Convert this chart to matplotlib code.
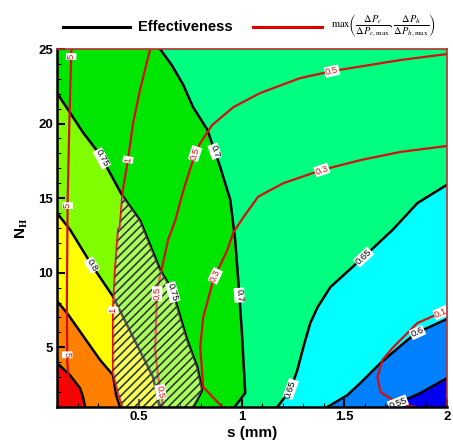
import numpy as np
import matplotlib
matplotlib.use("Agg")
import matplotlib.pyplot as plt
from matplotlib.patches import Polygon
from matplotlib.lines import Line2D

# ---------------------------------------------------------------- data
S_MIN, S_MAX = 0.1, 2.0      # fin spacing s (mm)
N_MIN, N_MAX = 1.0, 25.0     # number of hot channels N_H

# effectiveness isolines: (s values, N_H values), ordered so that each
# line ends on the bottom edge
eff_levels = [0.55, 0.60, 0.65, 0.70, 0.75, 0.80, 0.85, 0.90]
eff_055 = ([2.0, 1.871, 1.773, 1.71], [2.94, 1.94, 1.34, 1.0])
eff_060 = ([2.0, 1.856, 1.807, 1.676, 1.578, 1.515, 1.417],
           [6.9, 6.0, 5.49, 3.95, 2.61, 1.8, 1.0])
eff_065 = ([2.0, 1.856, 1.734, 1.593, 1.432, 1.37, 1.334, 1.30, 1.271, 1.237, 1.173],
           [15.9, 14.67, 12.86, 11.05, 9.04, 7.7, 6.63, 5.0, 3.48, 2.14, 1.0])
eff_070 = ([0.602, 0.66, 0.715, 0.763, 0.832, 0.895, 0.944, 0.968, 0.983, 1.0, 1.017, 0.965],
           [25.0, 23.9, 22.6, 21.1, 19.6, 17.1, 14.9, 12.2, 9.5, 6.2, 1.94, 1.0])
eff_075 = ([0.1, 0.227, 0.31, 0.417, 0.505, 0.602, 0.661, 0.734, 0.783, 0.807, 0.783, 0.763],
           [22.05, 19.4, 17.9, 15.2, 13.5, 10.2, 8.84, 5.5, 3.68, 2.14, 1.47, 1.0])
eff_080 = ([0.1, 0.163, 0.27, 0.373, 0.47, 0.568, 0.60],
           [14.0, 12.9, 10.5, 8.4, 5.7, 3.0, 1.0])
eff_085 = ([0.1, 0.149, 0.31, 0.373, 0.388, 0.407],
           [8.1, 7.3, 4.15, 3.14, 1.8, 1.0])
eff_090 = ([0.1, 0.163, 0.212, 0.227, 0.237],
           [3.95, 3.14, 2.27, 1.67, 1.0])
eff_lines = [eff_055, eff_060, eff_065, eff_070, eff_075, eff_080, eff_085, eff_090]

# pressure-drop ratio isolines max(dPc/dPc,max , dPh/dPh,max)
dp_levels = ["5", "1", "0.5", "0.3", "0.1"]
dp_5 = ([0.17, 0.16, 0.152, 0.148, 0.15, 0.17],
        [25.0, 20.0, 15.0, 8.0, 4.0, 1.0])
dp_1 = ([0.554, 0.505, 0.47, 0.446, 0.42, 0.407, 0.398, 0.383, 0.373, 0.373, 0.398, 0.42],
        [25.0, 22.3, 20.0, 17.6, 15.5, 13.1, 12.9, 10.2, 7.5, 3.3, 1.9, 1.0])
dp_05 = ([2.0, 1.773, 1.441, 1.285, 1.09, 0.959, 0.856, 0.798, 0.773, 0.715, 0.676,
          0.641, 0.588, 0.578, 0.593, 0.617],
         [24.66, 24.26, 23.52, 23.05, 22.05, 21.1, 19.9, 18.7, 18.0, 15.5, 13.5,
          12.2, 8.84, 4.82, 3.01, 1.0])
dp_03 = ([2.0, 1.773, 1.578, 1.393, 1.202, 1.08, 1.007, 0.959, 0.929, 0.861, 0.812,
          0.798, 0.812, 0.905],
         [18.5, 18.1, 17.55, 16.9, 16.0, 15.1, 13.7, 12.7, 11.5, 9.5, 7.0,
          5.0, 2.34, 1.0])
dp_01 = ([2.0, 1.856, 1.739, 1.685, 1.661, 1.676, 1.759, 1.846],
         [7.5, 6.63, 5.02, 4.15, 3.01, 2.0, 1.27, 1.0])
dp_lines = [dp_5, dp_1, dp_05, dp_03, dp_01]

x_ticks = [0.5, 1.0, 1.5, 2.0]
x_ticklabels = ["0.5", "1", "1.5", "2"]
y_ticks = [5, 10, 15, 20, 25]
y_ticklabels = ["5", "10", "15", "20", "25"]

# ---------------------------------------------------------------- style
band_colors = ["#0000f0", "#0080ff", "#00ffff", "#00ff80", "#00e600",
               "#80ff00", "#ffff00", "#ff8000", "#ff0000"]
RED = "#d41010"
plt.rcParams["font.family"] = ["Liberation Sans", "DejaVu Sans"]
plt.rcParams["mathtext.fontset"] = "stix"
plt.rcParams["hatch.linewidth"] = 1.2

fig = plt.figure(figsize=(4.53, 4.44), dpi=100)
ax = fig.add_axes([57 / 453, 1 - 407 / 444, 390 / 453, 358 / 444])
ax.set_xlim(S_MIN, S_MAX)
ax.set_ylim(N_MIN, N_MAX)
ax.set_facecolor(band_colors[0])

W = S_MAX - S_MIN
H = N_MAX - N_MIN
PER = 2 * (W + H)
corners = [(S_MIN, N_MIN, 0.0), (S_MAX, N_MIN, W),
           (S_MAX, N_MAX, W + H), (S_MIN, N_MAX, 2 * W + H)]


def frame_pos(s, n):
    """Position of a point on the frame, counter-clockwise from lower-left."""
    if abs(n - N_MIN) < 1e-9:
        return s - S_MIN
    if abs(s - S_MAX) < 1e-9:
        return W + (n - N_MIN)
    if abs(n - N_MAX) < 1e-9:
        return W + H + (S_MAX - s)
    return 2 * W + H + (N_MAX - n)


def closed_region(line, clockwise=True):
    """Close an isoline along the frame, walking from its end back to its start."""
    s, n = line
    t_end = frame_pos(s[-1], n[-1])
    t_start = frame_pos(s[0], n[0])
    if clockwise:
        span = (t_end - t_start) % PER
        walk = [(cs, cn, (t_end - tc) % PER) for cs, cn, tc in corners]
    else:
        span = (t_start - t_end) % PER
        walk = [(cs, cn, (tc - t_end) % PER) for cs, cn, tc in corners]
    walk = sorted([c for c in walk if 0 < c[2] < span], key=lambda c: c[2])
    xs = list(s) + [c[0] for c in walk]
    ys = list(n) + [c[1] for c in walk]
    return np.column_stack([xs, ys])


# filled effectiveness bands (painted from low to high)
for line, col in zip(eff_lines, band_colors[1:]):
    ax.add_patch(Polygon(closed_region(line), closed=True, facecolor=col,
                         edgecolor="none", zorder=1))

# isolines
for line in eff_lines:
    ax.plot(line[0], line[1], color="black", lw=1.8, zorder=3,
            solid_joinstyle="round")
for line in dp_lines:
    ax.plot(line[0], line[1], color=RED, lw=1.6, zorder=3,
            solid_joinstyle="round")

# feasible zone: effectiveness >= 0.75 and pressure-drop ratio <= 1
feasible_clip = Polygon(closed_region(dp_1, clockwise=False), closed=True,
                        transform=ax.transData)
zone = Polygon(closed_region(eff_075), closed=True, facecolor=(1, 1, 1, 0.35),
               edgecolor="#2a3a3a", hatch="////", lw=0, zorder=4)
ax.add_patch(zone)
zone.set_clip_path(feasible_clip)


def label_line(line, text, near, color):
    """Boxed label placed on an isoline and rotated along it."""
    pts = ax.transData.transform(np.column_stack(line))
    p = ax.transData.transform(near)
    best = None
    for a, b in zip(pts[:-1], pts[1:]):
        d = b - a
        t = np.clip(np.dot(p - a, d) / max(np.dot(d, d), 1e-12), 0, 1)
        q = a + t * d
        dist = np.hypot(*(q - p))
        if best is None or dist < best[0]:
            best = (dist, q, d)
    _, q, d = best
    ang = np.degrees(np.arctan2(d[1], d[0]))
    if ang > 90:
        ang -= 180
    elif ang < -90:
        ang += 180
    x, y = ax.transData.inverted().transform(q)
    ax.text(x, y, text, color=color, fontsize=6.8, rotation=ang,
            rotation_mode="anchor", ha="center", va="center", zorder=5,
            bbox=dict(boxstyle="square,pad=0.08", fc="white", ec="none"))


label_line(eff_075, "0.75", (0.31, 17.6), "black")
label_line(eff_075, "0.75", (0.64, 8.6), "black")
label_line(eff_080, "0.8", (0.27, 10.5), "black")
label_line(eff_070, "0.7", (0.86, 18.1), "black")
label_line(eff_070, "0.7", (0.99, 8.5), "black")
label_line(eff_065, "0.65", (1.59, 11.1), "black")
label_line(eff_065, "0.65", (1.26, 2.1), "black")
label_line(eff_060, "0.6", (1.856, 6.0), "black")
label_line(eff_055, "0.55", (1.76, 1.3), "black")

label_line(dp_5, "5", (0.163, 24.5), RED)
label_line(dp_5, "5", (0.154, 14.5), RED)
label_line(dp_5, "5", (0.15, 4.5), RED)
label_line(dp_1, "1", (0.44, 17.6), RED)
label_line(dp_1, "1", (0.373, 7.5), RED)
label_line(dp_05, "0.5", (1.44, 23.5), RED)
label_line(dp_05, "0.5", (0.77, 18.0), RED)
label_line(dp_05, "0.5", (0.59, 8.6), RED)
label_line(dp_05, "0.5", (0.60, 2.0), RED)
label_line(dp_03, "0.3", (1.39, 16.9), RED)
label_line(dp_03, "0.3", (0.87, 9.8), RED)
label_line(dp_01, "0.1", (1.97, 7.35), RED)

# axes, ticks, frame
ax.set_xticks(x_ticks)
ax.set_xticklabels(x_ticklabels)
ax.set_yticks(y_ticks)
ax.set_yticklabels(y_ticklabels)
ax.set_xticks(np.arange(0.1, 2.0, 0.1), minor=True)
ax.set_yticks(np.arange(1, 25, 1), minor=True)
ax.tick_params(which="major", direction="in", length=6, width=1.5,
               labelsize=9.5, pad=3, top=False, right=False)
ax.tick_params(which="minor", direction="in", length=3, width=0.8,
               top=False, right=False)
for lab in ax.get_xticklabels() + ax.get_yticklabels():
    lab.set_fontweight("bold")
for side in ("left", "bottom"):
    ax.spines[side].set_linewidth(1.8)
    ax.spines[side].set_color("black")
for side in ("top", "right"):
    ax.spines[side].set_linewidth(1.2)
    ax.spines[side].set_color("#b83030")
for sp in ax.spines.values():
    sp.set_zorder(6)

ax.set_xlabel("s (mm)", fontsize=11, fontweight="bold", labelpad=2)
ax.set_ylabel(r"N$_\mathbf{H}$", fontsize=11, fontweight="bold", labelpad=6)

# legend
fig.add_artist(Line2D([63 / 453, 130 / 453], [1 - 27 / 444] * 2,
                      color="black", lw=2.2, transform=fig.transFigure))
fig.text(138 / 453, 1 - 27 / 444, "Effectiveness", fontsize=10.5,
         fontweight="bold", ha="left", va="center")
fig.add_artist(Line2D([253 / 453, 322 / 453], [1 - 27 / 444] * 2,
                      color="#e00000", lw=2.2, transform=fig.transFigure))
fig.text(331 / 453, 1 - 26 / 444,
         r"$\max\left(\dfrac{\Delta P_c}{\Delta P_{c,\max}},"
         r"\dfrac{\Delta P_h}{\Delta P_{h,\max}}\right)$",
         fontsize=7.5, ha="left", va="center")

fig.savefig("out.png", dpi=100)
